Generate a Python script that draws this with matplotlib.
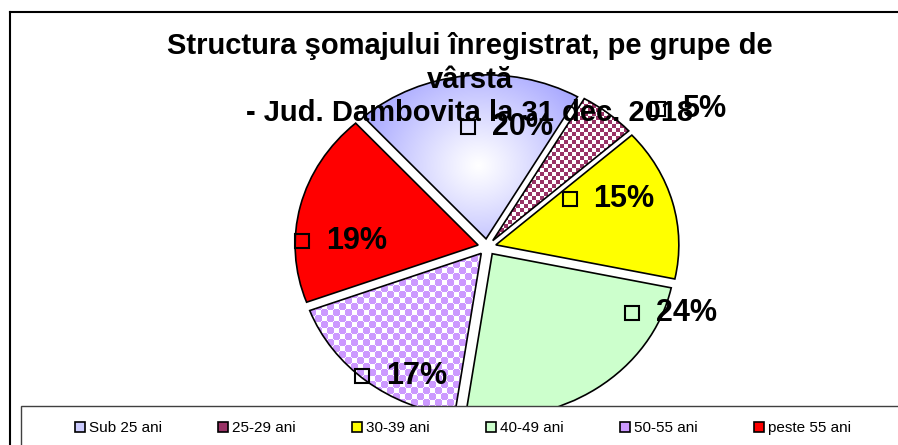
import numpy as np
import matplotlib.pyplot as plt
from matplotlib.patches import Patch, Rectangle
from matplotlib.lines import Line2D

plt.rcParams['font.family'] = ['Liberation Sans', 'DejaVu Sans']

# date
categorii = ['Sub 25 ani', '25-29 ani', '30-39 ani', '40-49 ani', '50-55 ani', 'peste 55 ani']
procente = [20, 5, 15, 24, 17, 19]
etichete = ['20%', '5%', '15%', '24%', '17%', '19%']
culori = ['#CCCCFF', '#993366', '#FFFF00', '#CCFFCC', '#CC99FF', '#FF0000']

# pozitia etichetelor (unghi, raza) fata de centrul graficului
poz_etichete = [(98, 0.74), (42, 1.26), (33, 0.54), (-27, 0.89), (-131, 1.04), (178, 1.01)]

W, H = 898, 445
CX, CY = 487, 247      # centrul in pixeli
SX, SY = 183, 164      # pixeli pe unitate

fig = plt.figure(figsize=(W / 100, H / 100), dpi=100)
ax = fig.add_axes([0, 0, 1, 1])
ax.axis('off')

wedges, _ = ax.pie(procente, explode=[0.05] * 6, startangle=132, counterclock=False,
                   colors=culori, radius=1,
                   wedgeprops=dict(edgecolor='black', linewidth=1.2))

xlim = (-CX / SX, (W - CX) / SX)
ylim = (-(H - CY) / SY, CY / SY)
ext = (xlim[0], xlim[1], ylim[0], ylim[1])

# grila de pixeli
cc, rr = np.meshgrid(np.arange(W), np.arange(H))


def rgb(h):
    h = h.lstrip('#')
    return np.array([int(h[i:i + 2], 16) / 255 for i in (0, 2, 4)])


# gradient radial pentru "Sub 25 ani"
gx, gy = 478, 165
d = np.hypot(cc - gx, (rr - gy) * 1.1)
t = np.clip(d / 140, 0, 1) ** 1.1
alb = np.ones(3)
albastru = rgb('#9999FF')
grad = alb[None, None, :] * (1 - t[..., None]) + albastru[None, None, :] * t[..., None]

# model carouri pentru "25-29 ani"
m1 = ((cc // 4) + (rr // 4)) % 2 == 0
pat1 = np.where(m1[..., None], rgb('#993366')[None, None, :], alb[None, None, :])

# model cu pete pentru "50-55 ani"
dx = (cc % 12) - 6
dy = (rr % 12) - 6
dx2 = ((cc + 6) % 12) - 6
dy2 = ((rr + 6) % 12) - 6
m2 = (np.hypot(dx, dy) <= 3.8) | (np.hypot(dx2, dy2) <= 3.8)
pat2 = np.where(m2[..., None], rgb('#CC99FF')[None, None, :], alb[None, None, :])

for idx, img in [(0, grad), (1, pat1), (4, pat2)]:
    w = wedges[idx]
    w.set_facecolor('none')
    im = ax.imshow(img, extent=ext, origin='upper', aspect='auto',
                   interpolation='nearest', zorder=0.5)
    im.set_clip_path(w)

# etichete
for (ang, r), txt in zip(poz_etichete, etichete):
    x = r * np.cos(np.radians(ang))
    y = r * np.sin(np.radians(ang))
    ax.plot(x, y, marker='s', markersize=10, markerfacecolor='none',
            markeredgecolor='black', markeredgewidth=1.5, zorder=5)
    ax.annotate(txt, (x, y), xytext=(17, 0), textcoords='offset points',
                ha='left', va='center', fontsize=22, fontweight='bold', zorder=6)

ax.set_xlim(xlim)
ax.set_ylim(ylim)

# titlu
titlu = ['Structura şomajului înregistrat, pe grupe de', 'vârstă',
         '- Jud. Dambovita la 31 dec. 2018']
for linie, yb in zip(titlu, [54, 88, 121]):
    fig.text(470 / W, 1 - yb / H, linie, ha='center', va='baseline',
             fontsize=21, fontweight='bold', zorder=7)

# chenar exterior
fig.add_artist(Line2D([10 / W, 10 / W], [0, 1 - 12 / H], color='black', lw=1.5,
                      transform=fig.transFigure))
fig.add_artist(Line2D([10 / W, 1], [1 - 12 / H, 1 - 12 / H], color='black', lw=1.5,
                      transform=fig.transFigure))

# caseta legendei
fig.add_artist(Rectangle((21 / W, -0.05), 1, (445 - 406) / H + 0.05,
                         transform=fig.transFigure, facecolor='white',
                         edgecolor='#404040', lw=1, zorder=4))

handles = [Patch(facecolor=c, edgecolor='black', linewidth=1.2) for c in culori]
fig.legend(handles, categorii, loc='center', bbox_to_anchor=(463 / W, 1 - 428 / H),
           ncol=6, frameon=False, fontsize=11, handlelength=0.65, handleheight=0.65,
           handletextpad=0.25, columnspacing=3.7)

fig.savefig('out.png', dpi=100)
